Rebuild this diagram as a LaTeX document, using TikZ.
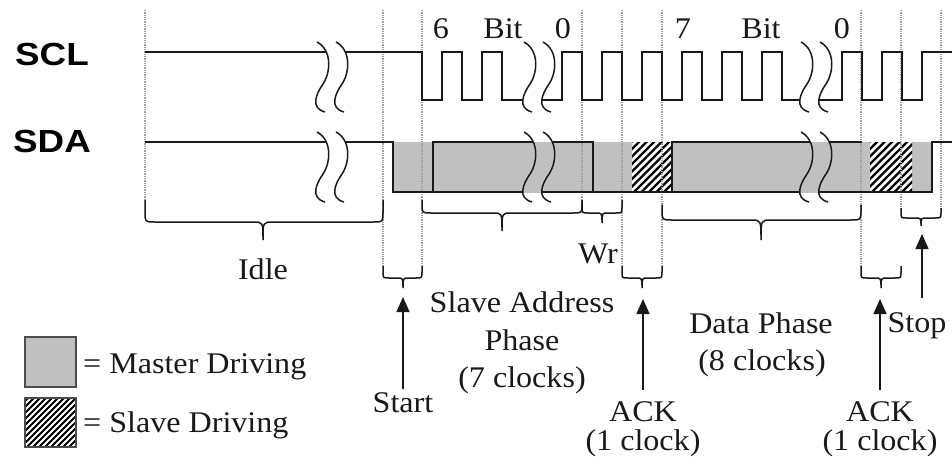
\documentclass[tikz,border=0pt]{standalone}
\usepackage{fontspec}
\setmainfont{Liberation Serif}[FakeStretch=1.07]
\newfontfamily\lblfont{Liberation Sans}[FakeStretch=1.15]
\usetikzlibrary{arrows.meta}
\definecolor{busgrey}{RGB}{192,192,192}
\definecolor{ink}{RGB}{25,25,25}
\newcommand\sqpath[2]{(#1-2,#2) .. controls (#1+13,#2+8) and (#1+12,#2+30) .. (#1+4,#2+42) .. controls (#1-3,#2+52) and (#1-9,#2+66) .. (#1+6,#2+70)}
\newcommand\gapregion[3]{(#1-2,#3) .. controls (#1+13,#3+8) and (#1+12,#3+30) .. (#1+4,#3+42) .. controls (#1-3,#3+52) and (#1-9,#3+66) .. (#1+6,#3+70) -- (#2+6,#3+70) .. controls (#2-9,#3+66) and (#2-3,#3+52) .. (#2+4,#3+42) .. controls (#2+12,#3+30) and (#2+13,#3+8) .. (#2-2,#3) -- cycle}
\newcommand\wavegap[3]{\fill[white] \gapregion{#1}{#2}{#3};
  \draw[squig] \sqpath{#1}{#3}; \draw[squig] \sqpath{#2}{#3};}
\newcommand\busgap[3]{\fill[white] \gapregion{#1}{#2}{#3};
  \begin{scope}\clip (#1-20,142) rectangle (#2+25,192); \fill[busgrey] \gapregion{#1}{#2}{#3};\end{scope}
  \draw[squig] \sqpath{#1}{#3}; \draw[squig] \sqpath{#2}{#3};}
\newcommand\hatchbox[6]{\begin{scope}\clip (#1,#2) rectangle (#3,#4);
  \fill[white] (#1,#2) rectangle (#3,#4);
  \foreach \k in {0,1,...,24} \draw[hatchline, line width=#6] (#1-60+\k*#5,#4+2) -- ++(64,-64);
  \end{scope}}
\newcommand\cbrace[7]{\draw[brc] (#1,#3) -- (#1,#4-#7) .. controls (#1,#4) .. (#1+#7,#4) -- (#5-#7,#4) .. controls (#5,#4) .. (#5,#6) .. controls (#5,#4) .. (#5+#7,#4) -- (#2-#7,#4) .. controls (#2,#4) .. (#2,#4-#7) -- (#2,#3);}
\begin{document}
\begin{tikzpicture}[x=1pt,y=-1pt,
  txt/.style={font=\fontsize{30}{34}\selectfont, inner sep=0pt, anchor=base, text=ink},
  sig/.style={font=\lblfont\bfseries\fontsize{32}{36}\selectfont, inner sep=0pt, anchor=base west, text=black},
  guide/.style={gray!75, line width=1.1pt, dash pattern=on 1.3pt off 1pt},
  wave/.style={ink, line width=1.6pt, line join=miter},
  bus/.style={ink, line width=2.2pt},
  brc/.style={ink, line width=1.5pt},
  squig/.style={ink, line width=1.5pt},
  hatchline/.style={black},
  arr/.style={ink, line width=1.5pt, -{Triangle[length=15pt,width=13pt]}},
  legbox/.style={draw=black!70, line width=1.5pt}]
\useasboundingbox (0,0) rectangle (952,460);
\fill[white] (0,0) rectangle (952,460);
% signal names
\node[sig] (scl) at (15,65) {SCL};
\node[sig] (sda) at (13,152) {SDA};
% bus fills
\fill[busgrey] (393,142) rectangle (932,192);
\hatchbox{632}{142}{672}{192}{7.5}{2.3pt}
\hatchbox{870}{142}{912}{192}{7.5}{2.3pt}
% guide lines
\foreach \gx/\gy in {145/200, 383/266, 422/266, 582/200, 622/266, 662/266, 861/266, 901/208, 941/208}
  \draw[guide] (\gx,10) -- (\gx,\gy);
% SDA outlines
\draw[bus] (145,142) -- (393,142) -- (393,192) -- (932,192) -- (932,142) -- (952,142);
\draw[bus] (433,192) -- (433,142) -- (593,142) -- (593,192);
\draw[bus] (672,192) -- (672,142) -- (862,142);
% SCL
\draw[wave] (145,52) -- (422,52) -- (422,100) -- (442,100) -- (442,52) -- (462,52) -- (462,100) -- (482,100) -- (482,52) -- (502,52) -- (502,100) -- (562,100) -- (562,52) -- (582,52) -- (582,100) -- (602,100) -- (602,52) -- (622,52) -- (622,100) -- (642,100) -- (642,52) -- (662,52) -- (662,100) -- (682,100) -- (682,52) -- (702,52) -- (702,100) -- (722,100) -- (722,52) -- (742,52) -- (742,100) -- (762,100) -- (762,52) -- (782,52) -- (782,100) -- (842,100) -- (842,52) -- (862,52) -- (862,100) -- (882,100) -- (882,52) -- (902,52) -- (902,100) -- (922,100) -- (922,52) -- (952,52);
% breaks
\wavegap{319}{338}{42}
\wavegap{526}{545}{42}
\wavegap{803}{822}{42}
\wavegap{319}{338}{132}
\busgap{526}{545}{132}
\busgap{803}{822}{132}
% bit labels
\node[txt] (b6) at (441,39) {6};
\node[txt] (bit1) at (503,39) {Bit};
\node[txt] (b0a) at (563,39) {0};
\node[txt] (b7) at (683,39) {7};
\node[txt] (bit2) at (761,39) {Bit};
\node[txt] (b0b) at (842,39) {0};
% braces
\cbrace{145}{383}{200}{222}{263}{240}{10}
\cbrace{383}{422}{266}{278}{403}{288}{6}
\cbrace{422}{582}{200}{213}{502}{231}{9}
\cbrace{582}{622}{200}{213}{602}{223}{6}
\cbrace{622}{662}{266}{278}{642}{288}{6}
\cbrace{662}{861}{205}{220}{761}{240}{10}
\cbrace{861}{901}{266}{278}{881}{288}{6}
\cbrace{901}{941}{208}{218}{921}{226}{6}
% labels
\node[txt] (idle) at (263,279) {Idle};
\node[txt] (start) at (403,412) {Start};
\node[txt] (sa1) at (522,312) {Slave Address};
\node[txt] (sa2) at (522,350) {Phase};
\node[txt] (sa3) at (522,387) {(7 clocks)};
\node[txt] (wr) at (598,263) {Wr};
\node[txt] (ack1) at (643,421) {ACK};
\node[txt] (ack1c) at (643,450) {(1 clock)};
\node[txt] (dp1) at (761,333) {Data Phase};
\node[txt] (dp2) at (762,370) {(8 clocks)};
\node[txt] (ack2) at (880,421) {ACK};
\node[txt] (ack2c) at (880,450) {(1 clock)};
\node[txt] (stop) at (917,332) {Stop};
% arrows
\coordinate (tStart) at (403,297);
\coordinate (tAck1) at (643,299);
\coordinate (tAck2) at (880,299);
\coordinate (tStop) at (922,234);
\coordinate (bStop) at (922,298);
\draw[arr] ([yshift=3pt]start.north) -- (tStart);
\draw[arr] ([yshift=11pt]ack1.north) -- (tAck1);
\draw[arr] ([yshift=11pt]ack2.north) -- (tAck2);
\draw[arr] (bStop) -- (tStop);
% legend
\draw[legbox, fill=busgrey] (25,337) rectangle (76,387);
\hatchbox{25}{398}{76}{447}{6}{1.8pt}
\draw[legbox] (25,398) rectangle (76,447);
\node[txt, anchor=base west] (lm) at (83,373) {= Master Driving};
\node[txt, anchor=base west] (ls) at (83,432) {= Slave Driving};
\end{tikzpicture}
\end{document}
